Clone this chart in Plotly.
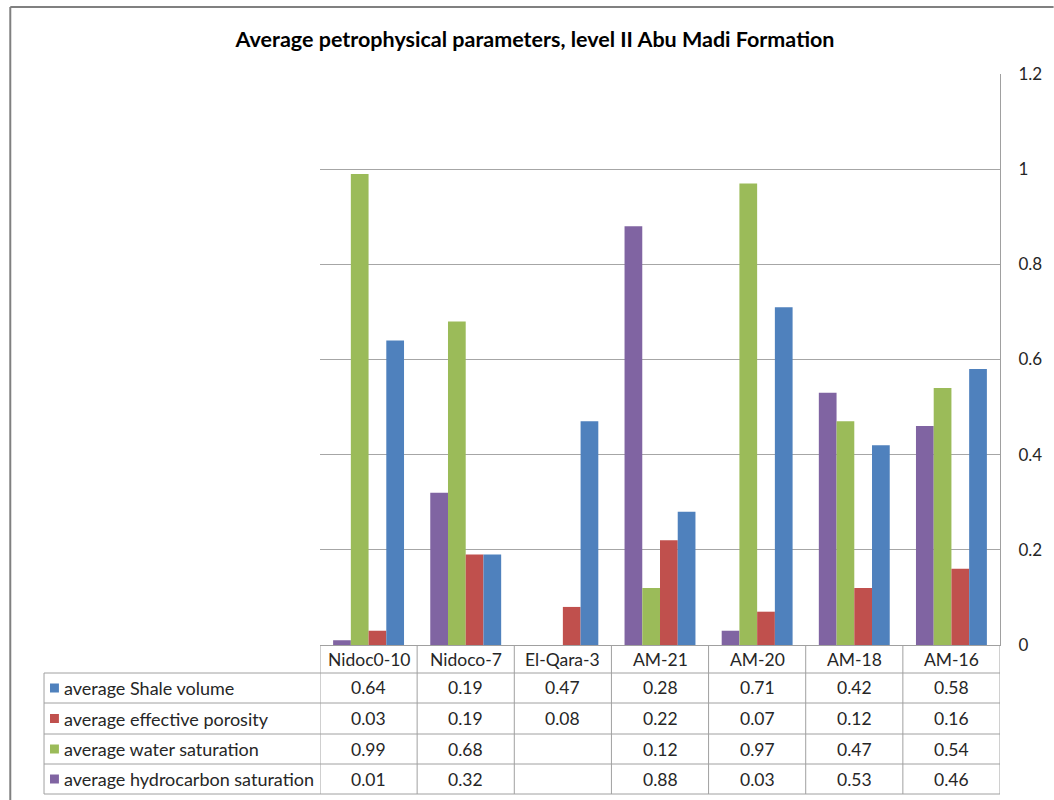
import plotly.graph_objects as go

# Wells along the profile
wells = ["Nidoc0-10", "Nidoco-7", "El-Qara-3", "AM-21", "AM-20", "AM-18", "AM-16"]

# Average petrophysical parameters per well (None = not available)
shale_volume = [0.64, 0.19, 0.47, 0.28, 0.71, 0.42, 0.58]
effective_porosity = [0.03, 0.19, 0.08, 0.22, 0.07, 0.12, 0.16]
water_saturation = [0.99, 0.68, None, 0.12, 0.97, 0.47, 0.54]
hydrocarbon_saturation = [0.01, 0.32, None, 0.88, 0.03, 0.53, 0.46]

y_ticks = [0, 0.2, 0.4, 0.6, 0.8, 1.0, 1.2]
y_tick_labels = ["0", "0.2", "0.4", "0.6", "0.8", "1", "1.2"]

BLUE = "#4F81BD"
RED = "#C0504D"
GREEN = "#9BBB59"
PURPLE = "#8064A2"

FONT = "Lato"
TEXT = "#262626"
GRID = "#A6A6A6"
BORDER = "#A0A0A0"

W, H = 1054, 800
PLOT_L, PLOT_R, PLOT_T, PLOT_B = 320, 1005, 74, 645

# series in bar order (left to right within a cluster)
bar_series = [
    ("average hydrocarbon saturation", hydrocarbon_saturation, PURPLE),
    ("average water saturation", water_saturation, GREEN),
    ("average effective porosity", effective_porosity, RED),
    ("average Shale volume", shale_volume, BLUE),
]
# series in data-table row order
table_series = [
    ("average Shale volume", shale_volume, BLUE),
    ("average effective porosity", effective_porosity, RED),
    ("average water saturation", water_saturation, GREEN),
    ("average hydrocarbon saturation", hydrocarbon_saturation, PURPLE),
]

fig = go.Figure()
for name, vals, col in bar_series:
    fig.add_trace(go.Bar(
        x=wells, y=vals, name=name,
        marker=dict(color=col, line=dict(width=0)),
        showlegend=False,
    ))


def py(pix):
    """pixel row -> paper y"""
    return (PLOT_B - pix) / (PLOT_B - PLOT_T)


def px(pix):
    """pixel column -> paper x"""
    return (pix - PLOT_L) / (PLOT_R - PLOT_L)


shapes = []
annotations = []

# data table geometry (pixel rows)
header_top, header_bot = 645, 673
row_edges = [673, 703, 734, 764, 794]
label_left = 42
line = dict(color=BORDER, width=1)
TABLE_FONT = dict(family=FONT, size=17.5, color=TEXT)
LABEL_FONT = dict(family=FONT, size=18, color=TEXT)

n = len(wells)
# vertical column lines, aligned with category boundaries on the x axis
for i in range(n + 1):
    shapes.append(dict(type="line", xref="x", yref="paper",
                       x0=i - 0.5, x1=i - 0.5,
                       y0=py(header_top), y1=py(row_edges[-1]), line=line))
# header bottom / row lines across categories + label column
for yy in row_edges:
    shapes.append(dict(type="line", xref="paper", yref="paper",
                       x0=px(label_left), x1=1.0,
                       y0=py(yy), y1=py(yy), line=line))
# left edge of label column
shapes.append(dict(type="line", xref="paper", yref="paper",
                   x0=px(label_left), x1=px(label_left),
                   y0=py(row_edges[0]), y1=py(row_edges[-1]), line=line))

# header labels
for i, w in enumerate(wells):
    annotations.append(dict(xref="x", yref="paper", x=i,
                            y=py((header_top + header_bot) / 2),
                            text=w, showarrow=False, font=TABLE_FONT,
                            xanchor="center", yanchor="middle"))

# table rows
for r, (name, vals, col) in enumerate(table_series):
    ymid = (row_edges[r] + row_edges[r + 1]) / 2
    shapes.append(dict(type="rect", xref="paper", yref="paper",
                       x0=px(48), x1=px(57), y0=py(ymid + 4.5), y1=py(ymid - 4.5),
                       fillcolor=col, line=dict(width=0)))
    annotations.append(dict(xref="paper", yref="paper", x=px(60), y=py(ymid),
                            text=name, showarrow=False, font=LABEL_FONT,
                            xanchor="left", yanchor="middle"))
    for i, v in enumerate(vals):
        if v is None:
            continue
        annotations.append(dict(xref="x", yref="paper", x=i, y=py(ymid),
                                text=f"{v:.2f}", showarrow=False, font=TABLE_FONT,
                                xanchor="center", yanchor="middle"))

# outer chart frame (top and left edges)
shapes.append(dict(type="line", xref="paper", yref="paper",
                   x0=px(8), x1=px(W + 5), y0=py(7), y1=py(7),
                   line=dict(color="#808080", width=2)))
shapes.append(dict(type="line", xref="paper", yref="paper",
                   x0=px(8), x1=px(8), y0=py(7), y1=py(H + 5),
                   line=dict(color="#808080", width=2)))

fig.update_layout(
    width=W, height=H,
    margin=dict(l=PLOT_L, r=W - PLOT_R, t=PLOT_T, b=H - PLOT_B),
    paper_bgcolor="white", plot_bgcolor="white",
    barmode="group", bargap=0.27, bargroupgap=0,
    title=dict(text="<b>Average petrophysical parameters, level II Abu Madi Formation</b>",
               x=535 / W, xanchor="center", y=1 - 39 / H, yanchor="middle",
               font=dict(family=FONT, size=21.5, color="#000000")),
    xaxis=dict(range=[-0.5, n - 0.5], showticklabels=False, showgrid=False,
               zeroline=False, showline=True, linecolor=BORDER, linewidth=1,
               ticks=""),
    yaxis=dict(side="right", range=[0, 1.2], tickvals=y_ticks, ticktext=y_tick_labels,
               showgrid=True, gridcolor=GRID, gridwidth=1, zeroline=False,
               showline=True, linecolor=BORDER, linewidth=1,
               ticks="", ticklabelstandoff=14,
               tickfont=dict(family=FONT, size=17, color=TEXT)),
    shapes=shapes, annotations=annotations,
)

fig.write_html("out.html")
